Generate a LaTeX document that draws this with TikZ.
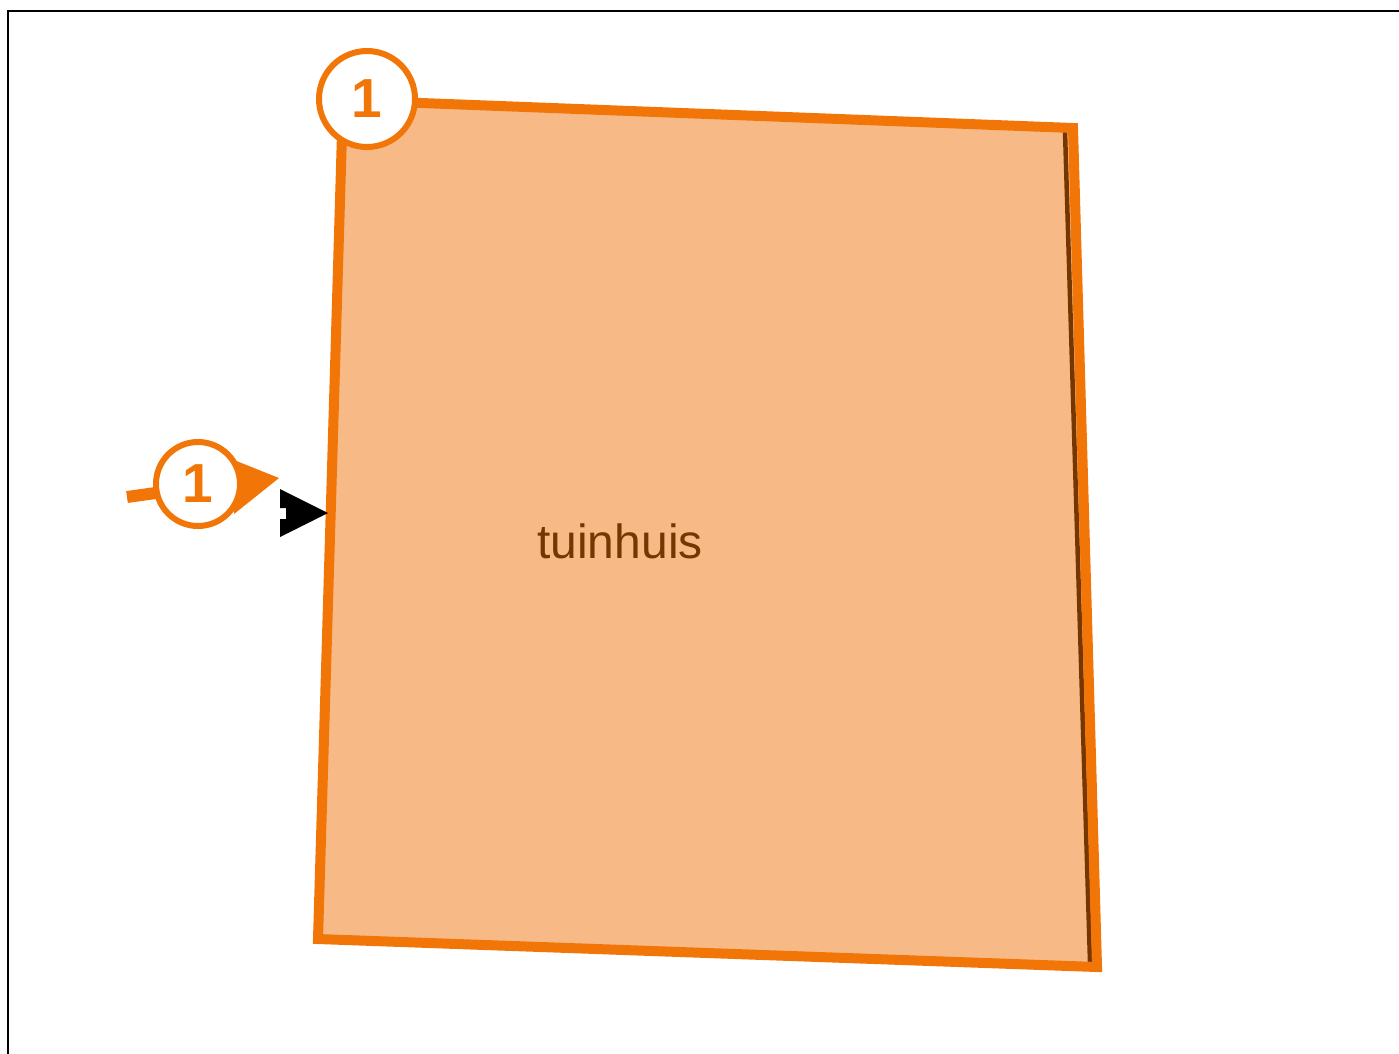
\documentclass[tikz,border=0pt]{standalone}
\usepackage{fontspec}
\setmainfont{Liberation Sans}
\definecolor{orng}{HTML}{F27507}
\definecolor{fillo}{HTML}{F7BA87}
\definecolor{brwn}{HTML}{763600}
\tikzset{
  badge/.style={circle, draw=orng, line width=6pt, fill=white, text=orng, font=\bfseries\fontsize{55}{55}\selectfont, inner sep=0pt},
}
\begin{document}
\begin{tikzpicture}[x=1pt,y=-1pt]
\useasboundingbox (0,0) rectangle (1399,1053);
\draw[line width=2.5pt] (8,1060) -- (8,11) -- (1410,11);
% corners
\coordinate (tl) at (343,100);
\coordinate (tr) at (1073,128);
\coordinate (br) at (1097,967);
\coordinate (bl) at (318,939);
\fill[fillo] (tl) -- (tr) -- (br) -- (bl) -- cycle;
\coordinate (d1) at (1065,131);
\coordinate (d2) at (1090,962);
\draw[brwn, line width=4.5pt] (d1) -- (d2);
\draw[orng, line width=10pt, line join=miter] (tl) -- (tr) -- (br) -- (bl) -- cycle;
\node[text=brwn, font=\fontsize{48}{48}\selectfont] (lbl) at (620,541) {tuinhuis};
% top badge
\node[badge, minimum size=96pt] (b1) at (367,99) {1};
% side badge with arrow
\coordinate (tail) at (127,497);
\coordinate (tip) at (279,478);
\coordinate (ta) at (234,460);
\coordinate (tb) at (234,514);
\fill[orng] (ta) -- (tip) -- (tb) -- cycle;
\draw[orng, line width=12pt] (tail) -- (170,491);
\node[badge, minimum size=84pt] (b2) at (198,484) {1};
% black arrowhead
\coordinate (ktip) at (328,513);
\fill[black] (280,489) -- (ktip) -- (280,537) -- (280,519) -- (286,519) -- (286,508) -- (280,508) -- cycle;
\end{tikzpicture}
\end{document}
